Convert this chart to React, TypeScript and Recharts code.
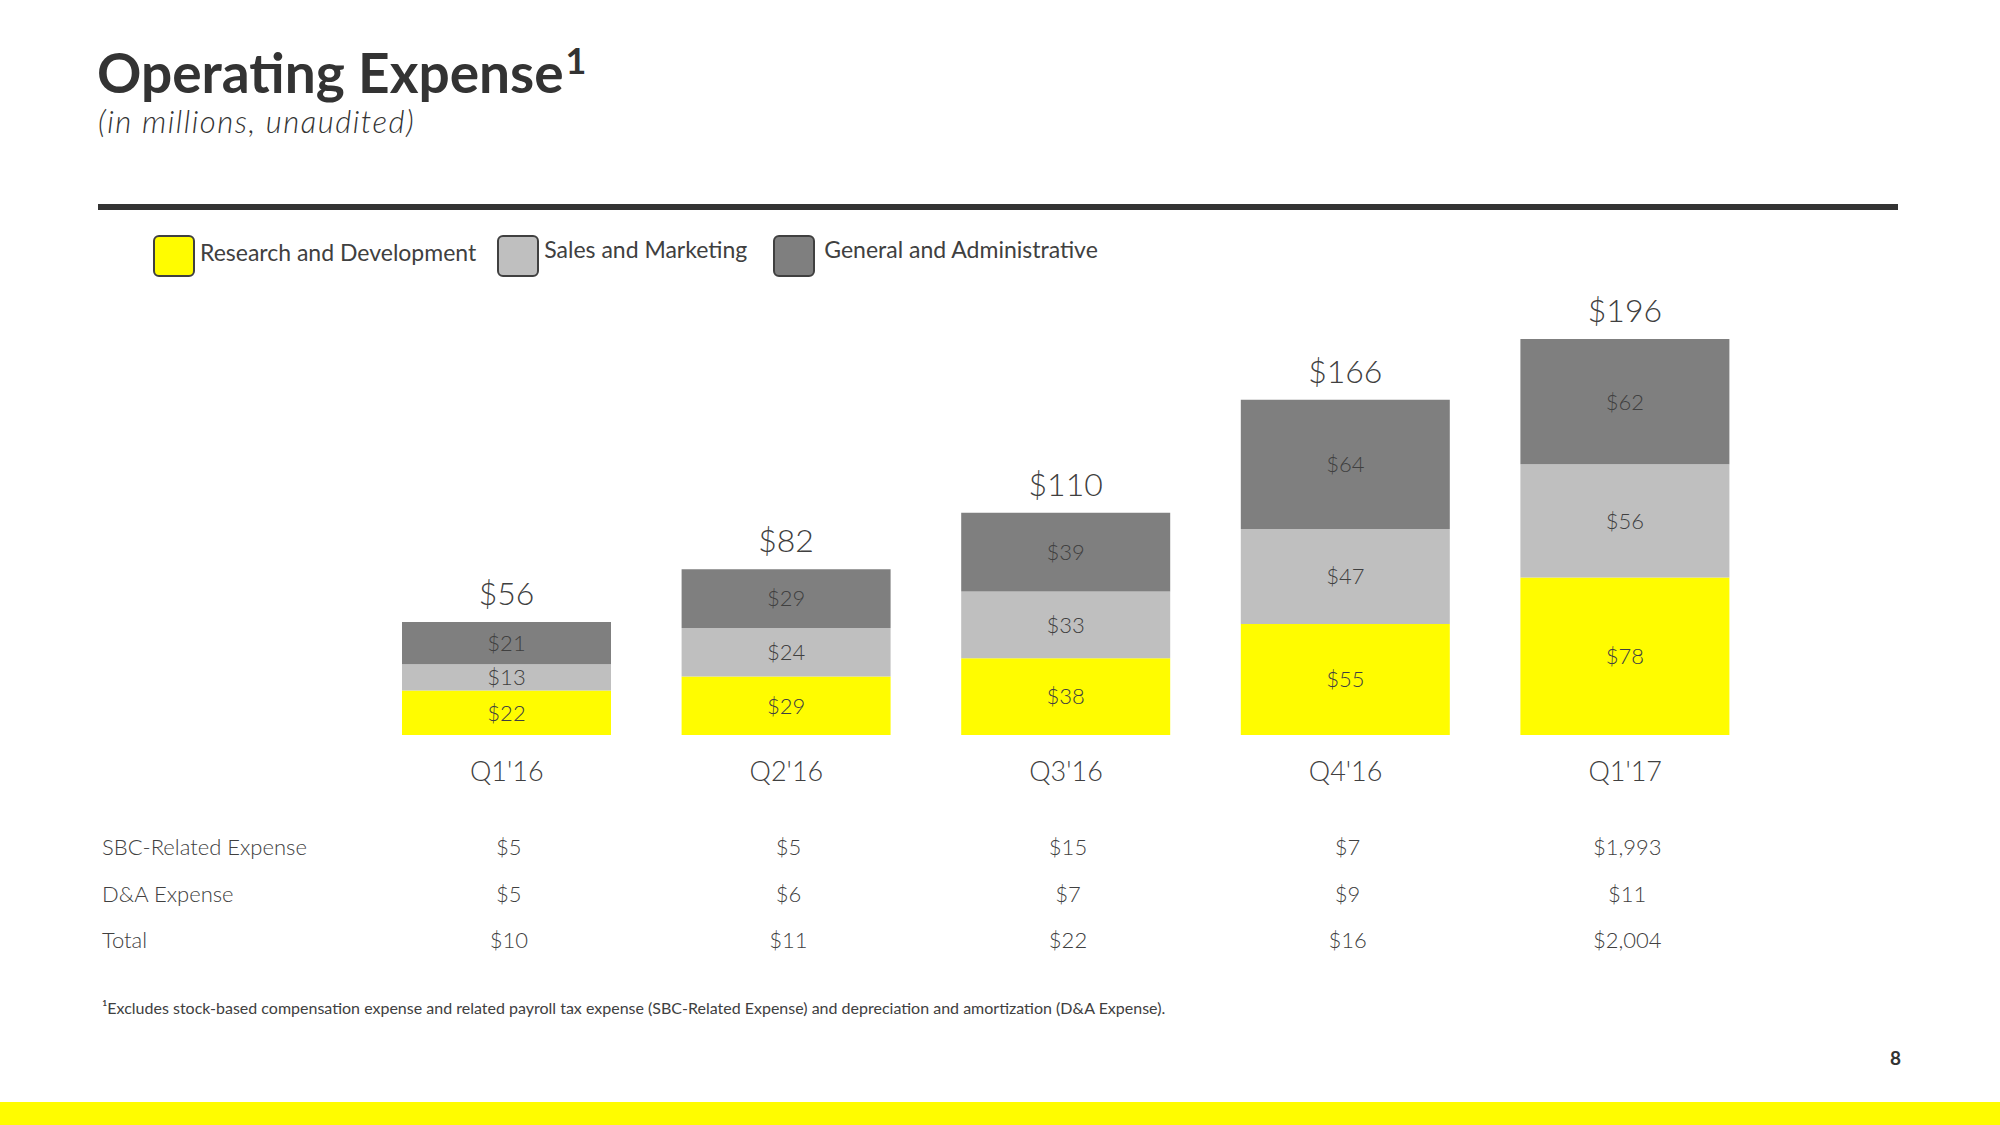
import { Bar, BarChart, LabelList, XAxis, YAxis } from "recharts";

const quarters = ["Q1'16", "Q2'16", "Q3'16", "Q4'16", "Q1'17"];
const researchDev = [22, 29, 38, 55, 78];
const salesMarketing = [13, 24, 33, 47, 56];
const generalAdmin = [21, 29, 39, 64, 62];
const totals = [56, 82, 110, 166, 196];

const rowLabels = ["SBC-Related Expense", "D&A Expense", "Total"];
const sbcExpense = ["$5", "$5", "$15", "$7", "$1,993"];
const daExpense = ["$5", "$6", "$7", "$9", "$11"];
const addBackTotal = ["$10", "$11", "$22", "$16", "$2,004"];

const YELLOW = "#FFFC00";
const LIGHT = "#BFBFBF";
const DARK = "#7F7F7F";
const TEXT = "#404040";
const FONT = "Lato, 'Noto Sans', sans-serif";

const series = [
  { key: "rd", name: "Research and Development", color: YELLOW },
  { key: "sm", name: "Sales and Marketing", color: LIGHT },
  { key: "ga", name: "General and Administrative", color: DARK },
];

const data = quarters.map((q, i) => ({
  quarter: q,
  rd: researchDev[i],
  sm: salesMarketing[i],
  ga: generalAdmin[i],
  total: totals[i],
}));

const dollars = (v: any) => `$${v}`;

// quarter label + the add-back table column under each bar
function QuarterTick(props: any) {
  const { x, y, payload } = props;
  const i = quarters.indexOf(payload.value);
  const rows = [sbcExpense[i], daExpense[i], addBackTotal[i]];
  return (
    <g fontFamily={FONT} fill={TEXT}>
      <text x={x} y={y + 38} textAnchor="middle" fontSize={27} fontWeight={300}>
        {payload.value}
      </text>
      {rows.map((r, k) => (
        <text
          key={k}
          x={x + 2}
          y={y + 112 + k * 46.5}
          textAnchor="middle"
          fontSize={22}
          fontWeight={300}
        >
          {r}
        </text>
      ))}
    </g>
  );
}

export default function App() {
  return (
    <div
      style={{
        position: "absolute",
        left: 0,
        top: 0,
        width: 2000,
        height: 1125,
        background: "#fff",
        overflow: "hidden",
        fontFamily: FONT,
        color: TEXT,
      }}
    >
      <div
        style={{
          position: "absolute",
          left: 97,
          top: 45,
          fontSize: 55,
          lineHeight: 1,
          fontWeight: 700,
          color: "#333",
          whiteSpace: "nowrap",
        }}
      >
        Operating Expense
        <span style={{ fontSize: 36, position: "relative", top: -19, marginLeft: 2 }}>1</span>
      </div>
      <div
        style={{
          position: "absolute",
          left: 98,
          top: 106,
          fontSize: 31,
          lineHeight: 1,
          fontStyle: "italic",
          fontWeight: 300,
          letterSpacing: 1.5,
          color: "#333",
          whiteSpace: "nowrap",
        }}
      >
        (in millions, unaudited)
      </div>
      <div
        style={{
          position: "absolute",
          left: 98,
          top: 204,
          width: 1800,
          height: 6,
          background: "#333",
        }}
      />

      {/* legend */}
      <div style={{ position: "absolute", left: 153, top: 235, display: "flex", alignItems: "center" }}>
        {series.map((s, i) => (
          <div
            key={s.key}
            style={{ display: "flex", alignItems: "center", marginRight: i === 0 ? 21 : 26 }}
          >
            <div
              style={{
                width: 38,
                height: 38,
                background: s.color,
                border: "2px solid #404040",
                borderRadius: 6,
                marginRight: i === 2 ? 9 : 5,
              }}
            />
            <span style={{ fontSize: 23, fontWeight: 400, marginTop: i === 0 ? -8 : -14 }}>{s.name}</span>
          </div>
        ))}
      </div>

      <div style={{ position: "absolute", left: 0, top: 0 }}>
        <BarChart
          width={2000}
          height={1125}
          data={data}
          margin={{ top: 331, right: 235, bottom: 0, left: 367 }}
          barSize={209}
        >
          <XAxis
            dataKey="quarter"
            height={390}
            axisLine={false}
            tickLine={false}
            interval={0}
            tick={<QuarterTick />}
          />
          <YAxis hide domain={[0, 200]} />
          <Bar dataKey="rd" stackId="a" fill={YELLOW} isAnimationActive={false}>
            <LabelList dataKey="rd" position="center" formatter={dollars} fill={TEXT} fontSize={22} fontFamily={FONT} fontWeight={300} />
          </Bar>
          <Bar dataKey="sm" stackId="a" fill={LIGHT} isAnimationActive={false}>
            <LabelList dataKey="sm" position="center" formatter={dollars} fill={TEXT} fontSize={22} fontFamily={FONT} fontWeight={300} />
          </Bar>
          <Bar dataKey="ga" stackId="a" fill={DARK} isAnimationActive={false}>
            <LabelList dataKey="ga" position="center" formatter={dollars} fill={TEXT} fontSize={22} fontFamily={FONT} fontWeight={300} />
            <LabelList dataKey="total" position="top" offset={17} formatter={dollars} fill={TEXT} fontSize={32} fontFamily={FONT} fontWeight={300} />
          </Bar>
        </BarChart>
      </div>

      {/* row labels for the add-back table */}
      {rowLabels.map((r, k) => (
        <div
          key={r}
          style={{
            position: "absolute",
            left: 102,
            top: 836 + k * 46.5,
            fontSize: 22,
            lineHeight: 1,
            fontWeight: 300,
          }}
        >
          {r}
        </div>
      ))}

      <div
        style={{
          position: "absolute",
          left: 102,
          top: 1000,
          fontSize: 16,
          lineHeight: 1,
          fontWeight: 400,
          whiteSpace: "nowrap",
        }}
      >
        ¹Excludes stock-based compensation expense and related payroll tax expense (SBC-Related Expense) and depreciation and amortization (D&amp;A Expense).
      </div>
      <div
        style={{
          position: "absolute",
          left: 1890,
          top: 1048,
          fontSize: 19,
          lineHeight: 1,
          fontWeight: 700,
          color: "#333",
        }}
      >
        8
      </div>
      <div
        style={{
          position: "absolute",
          left: 0,
          top: 1102,
          width: 2000,
          height: 23,
          background: YELLOW,
        }}
      />
    </div>
  );
}
